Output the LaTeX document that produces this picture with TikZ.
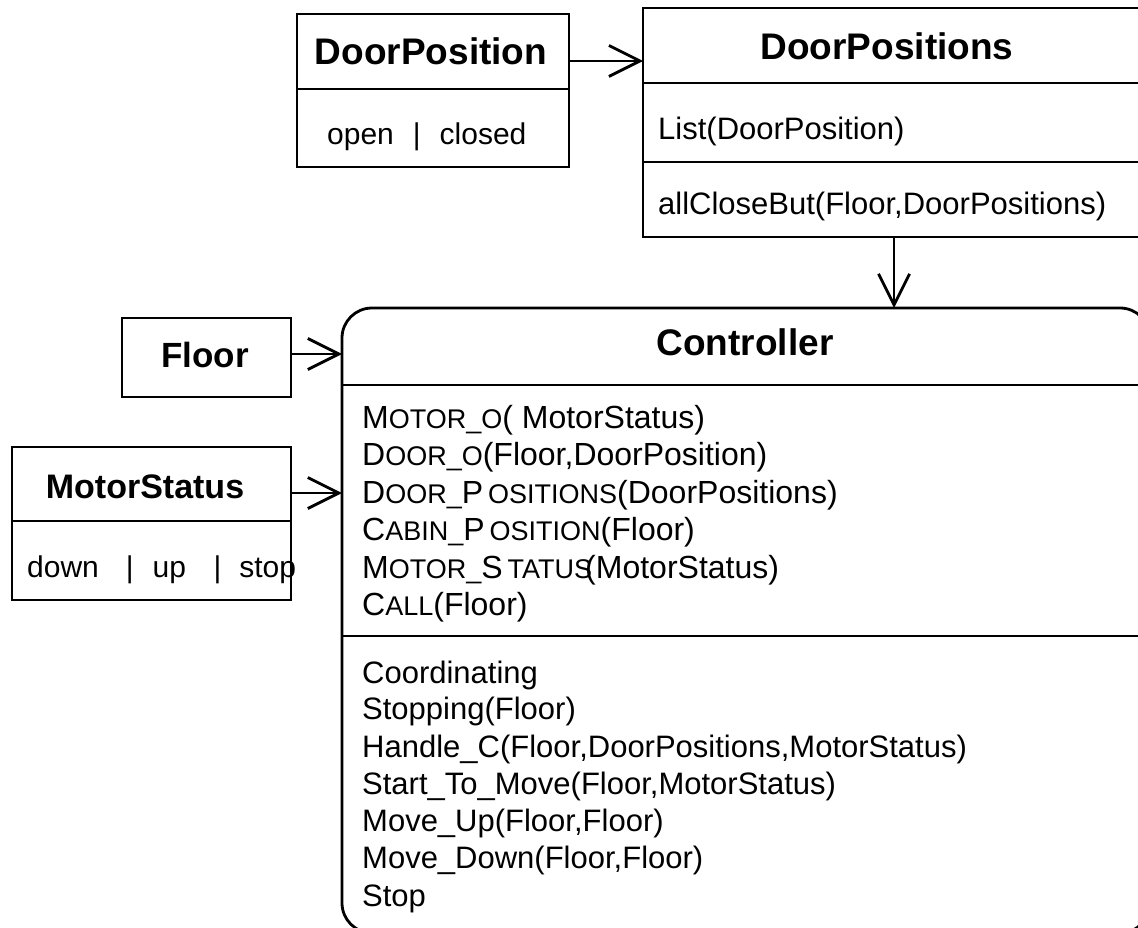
\documentclass[tikz,border=0pt]{standalone}
\usepackage{fontspec}
\setmainfont{Liberation Sans}
\usetikzlibrary{arrows.meta}
% reduced capitals for the signal names
\newcommand\lowcaps[1]{{\fontsize{27}{27}\selectfont #1}}

\begin{document}
\begin{tikzpicture}[x=1pt,y=-1pt,
  lw/.style={line width=2.8pt},
  cell/.style={draw, lw, rectangle, inner sep=0pt, outer sep=0pt, anchor=north west},
  title/.style={font=\fontsize{#1}{#1}\selectfont\bfseries, inner sep=0pt, anchor=base},
  title/.default=36,
  entry/.style={font=\fontsize{#1}{#1}\selectfont, inner sep=0pt, anchor=base west},
  entry/.default=30,
  signal/.style={font=\fontsize{32}{32}\selectfont, inner sep=0pt, anchor=base west},
  state/.style={font=\fontsize{31}{31}\selectfont, inner sep=0pt, anchor=base west},
  assoc/.style={lw, -{Straight Barb[length=31pt, width=31pt, line width=2.8pt]}}
]
\useasboundingbox (0,0) rectangle (1138,928);
\clip (0,0) rectangle (1138,928);

% ---- DoorPosition -------------------------------------------------
\node[cell, minimum width=272pt, minimum height=75pt] (dpHead) at (297,14) {};
\node[cell, minimum width=272pt, minimum height=78pt] (dpBody) at (297,89) {};
\node[title=37] (dpName) at (431,65) {DoorPosition};
\node[entry] (dpVals) at (327,145) {open\hspace{19pt}|\hspace{19pt}closed};

% ---- DoorPositions ------------------------------------------------
\node[cell, minimum width=507pt, minimum height=75pt] (dsHead) at (643,8) {};
\node[cell, minimum width=507pt, minimum height=79pt] (dsAttr) at (643,83) {};
\node[cell, minimum width=507pt, minimum height=75pt] (dsOps) at (643,162) {};
\node[title=37] (dsName) at (887,60) {DoorPositions};
\node[entry=31] (dsList) at (658,140) {List(DoorPosition)};
\node[entry=31] (dsFun) at (658,215) {allCloseBut(Floor,DoorPositions)};

% ---- Floor --------------------------------------------------------
\node[cell, minimum width=169pt, minimum height=79pt] (floor) at (122,318) {};
\node[title=35] (floorName) at (205,367) {Floor};

% ---- MotorStatus --------------------------------------------------
\node[cell, minimum width=279pt, minimum height=74pt] (msHead) at (12,447) {};
\node[cell, minimum width=279pt, minimum height=79pt] (msBody) at (12,521) {};
\node[title=34] (msName) at (145,498) {MotorStatus};
\node[entry] (msVals) at (27,577)
  {down\hspace{27pt}|\hspace{19pt}up\hspace{27.5pt}|\hspace{18pt}stop};

% ---- Controller ---------------------------------------------------
\node[draw, lw, rectangle, rounded corners=30pt, inner sep=0pt, outer sep=0pt,
      anchor=north west, minimum width=808pt, minimum height=625pt] (ctrl) at (342,308) {};
\draw[lw] (ctrl.west |- 0,385) -- (ctrl.east |- 0,385);
\draw[lw] (ctrl.west |- 0,636) -- (ctrl.east |- 0,636);
\node[title=37] (ctrlName) at (745,355) {Controller};

\node[signal] (s1) at (362,428) {M\lowcaps{OTOR\_O}( MotorStatus)};
\node[signal] (s2) at (362,465.5) {D\lowcaps{OOR\_O}(Floor,DoorPosition)};
\node[signal] (s3) at (362,503) {D\lowcaps{OOR\_}P\kern5pt\lowcaps{OSITIONS}(DoorPositions)};
\node[signal] (s4) at (362,540.5) {C\lowcaps{ABIN\_}P\kern5pt\lowcaps{OSITION}(Floor)};
\node[signal] (s5) at (362,578) {M\lowcaps{OTOR\_}S\kern5pt\lowcaps{TATUS}\kern-7pt(MotorStatus)};
\node[signal] (s6) at (362,615) {C\lowcaps{ALL}(Floor)};

\node[state] (t1) at (362,683) {Coordinating};
\node[state] (t2) at (362,719.5) {Stopping(Floor)};
\node[state] (t3) at (362,757) {Handle\_C(Floor,DoorPositions,MotorStatus)};
\node[state] (t4) at (362,794) {Start\_To\_Move(Floor,MotorStatus)};
\node[state] (t5) at (362,831) {Move\_Up(Floor,Floor)};
\node[state] (t6) at (362,868.5) {Move\_Down(Floor,Floor)};
\node[state] (t7) at (362,906.5) {Stop};

% ---- associations -------------------------------------------------
\coordinate (dpOut) at ([yshift=-9.5pt]dpHead.east);
\draw[assoc] (dpOut) -- (dpOut -| dsHead.west);

\coordinate (dsOut) at ([xshift=-2.5pt]dsOps.south);
\draw[assoc] (dsOut) -- (dsOut |- ctrl.north);

\coordinate (floorOut) at ([yshift=3.5pt]floor.east);
\draw[assoc] (floorOut) -- (floorOut -| ctrl.west);

\coordinate (msOut) at ([yshift=-9pt]msHead.east);
\draw[assoc] (msOut) -- (msOut -| ctrl.west);
\end{tikzpicture}
\end{document}
